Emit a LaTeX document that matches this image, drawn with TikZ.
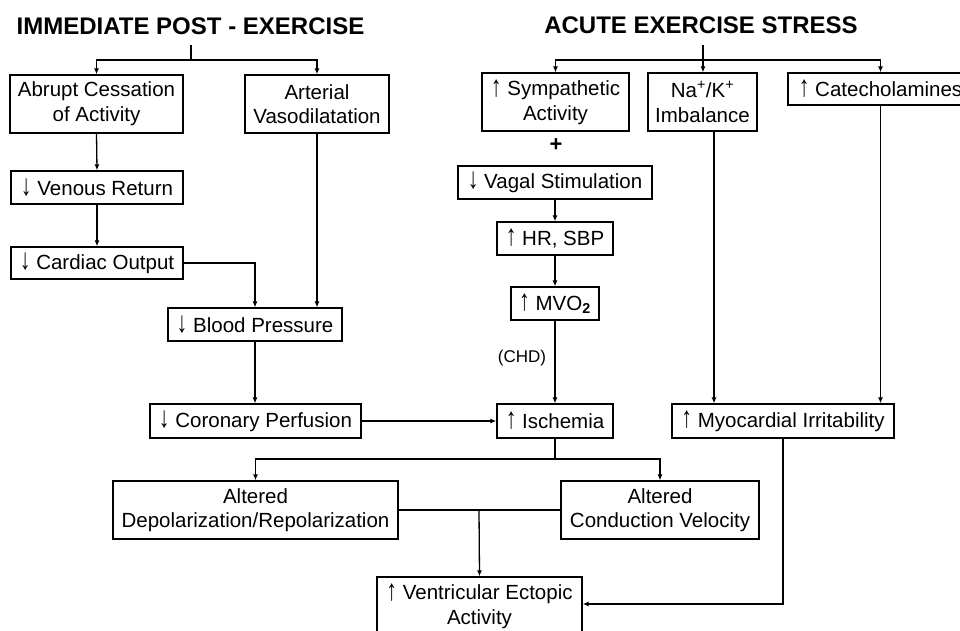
\documentclass[tikz,border=0pt]{standalone}
\usepackage{fontspec}
\usepackage{graphicx}
\setmainfont{Liberation Sans}
\usetikzlibrary{arrows.meta}
\newcommand\uparr{\raisebox{-0.02em}{\scalebox{1.05}[1.45]{↑}}}
\newcommand\dnarr{\raisebox{-0.02em}{\scalebox{1.05}[1.45]{↓}}}
\begin{document}
\begin{tikzpicture}[x=1pt,y=-1pt,
  box/.style={draw, line width=1.3pt, inner sep=0pt, align=center,
    font=\fontsize{20.5}{24.6}\selectfont},
  conn/.style={line width=1.3pt},
  arr/.style={conn, -{Latex[length=6pt,width=5pt]}},
  ttl/.style={font=\bfseries\fontsize{24}{28}\selectfont, inner sep=0pt, anchor=base}]
\useasboundingbox (0,0) rectangle (960,631);
\clip (0,0) rectangle (960,631);
% titles
\node[ttl] (tl) at (190.5,35) {IMMEDIATE POST - EXERCISE};
\node[ttl] (tr) at (701,34) {ACUTE EXERCISE STRESS};
% left column
\node[box, minimum width=173, minimum height=58] (abrupt) at (96.5,104) {Abrupt Cessation\\of Activity};
\node[box, minimum width=144, minimum height=58] (arterial) at (317,104) {Arterial\\Vasodilatation};
\node[box, minimum width=172, minimum height=33] (venous) at (97,187.5) {\dnarr{} Venous Return};
\node[box, minimum width=172, minimum height=32] (cardiac) at (97,263) {\dnarr{} Cardiac Output};
\node[box, minimum width=174, minimum height=33] (bp) at (255,324.5) {\dnarr{} Blood Pressure};
\node[box, minimum width=211, minimum height=34] (coronary) at (255.5,421) {\dnarr{} Coronary Perfusion};
% right column
\node[box, minimum width=147, minimum height=58] (symp) at (555.5,102) {\uparr{} Sympathetic\\Activity};
\node[box, minimum width=109, minimum height=58] (na) at (702.5,102) {Na\textsuperscript{+}/K\textsuperscript{+}\\Imbalance};
\node[box, minimum width=185, minimum height=32] (cat) at (880.5,89) {\uparr{} Catecholamines};
\node[font=\bfseries\fontsize{22}{26}\selectfont, inner sep=0pt] (plus) at (556,145) {+};
\node[box, minimum width=194, minimum height=33] (vagal) at (555,182.5) {\dnarr{} Vagal Stimulation};
\node[box, minimum width=116, minimum height=33] (hr) at (555,238.5) {\uparr{} HR, SBP};
\node[box, minimum width=88, minimum height=33] (mvo) at (555,303.5) {\uparr{} MVO\textsubscript{\bfseries 2}};
\node[box, minimum width=116, minimum height=34] (isch) at (555,421) {\uparr{} Ischemia};
\node[box, minimum width=222, minimum height=34] (myo) at (783,421) {\uparr{} Myocardial Irritability};
% bottom
\node[box, minimum width=285, minimum height=58] (depol) at (255.5,510) {Altered\\Depolarization/Repolarization};
\node[box, minimum width=198, minimum height=58] (cond) at (660,510) {Altered\\Conduction Velocity};
\node[box, minimum width=205, minimum height=58] (vent) at (479.5,606) {\uparr{} Ventricular Ectopic\\Activity};
\node[font=\fontsize{17}{20}\selectfont, inner sep=0pt] (chd) at (522,358) {(CHD)};
% junctions
\coordinate (tlj) at (191,60);
\coordinate (trj) at (703,60);
\coordinate (ij) at (555,459);
\coordinate (vj) at (479,510);
\coordinate (nax) at (714,0);
% connectors left
\draw[conn] ([yshift=-10pt]tl.base -| tlj) -- (tlj);
\draw[arr] (tlj) -| (abrupt.north);
\draw[arr] (tlj) -| (arterial.north);
\draw[arr] (abrupt.south) -- (venous.north);
\draw[arr] (venous.south) -- (cardiac.north);
\draw[arr] (cardiac.east) -| (bp.north);
\draw[arr] (arterial.south) -- (arterial.south |- bp.north);
\draw[arr] (bp.south) -- (bp.south |- coronary.north);
\draw[arr] (coronary.east) -- (isch.west);
% connectors right
\draw[conn] ([yshift=-11pt]tr.base -| trj) -- (trj);
\draw[arr] (trj) -| (symp.north);
\draw[arr] (trj) -- (trj |- na.north);
\draw[arr] (trj) -| (cat.north);
\draw[arr] (vagal.south) -- (hr.north);
\draw[arr] (hr.south) -- (mvo.north);
\draw[arr] (mvo.south) -- (isch.north);
\draw[arr] (na.south -| nax) -- (myo.north -| nax);
\draw[arr] (cat.south) -- (cat.south |- myo.north);
% connectors bottom
\draw[conn] (isch.south) -- (ij);
\draw[arr] (ij) -| (depol.north);
\draw[arr] (ij) -| (cond.north);
\draw[conn] (depol.east) -- (cond.west);
\draw[arr] (vj) -- (vent.north);
\draw[arr] (myo.south) |- ([yshift=2pt]vent.east);
\end{tikzpicture}
\end{document}
